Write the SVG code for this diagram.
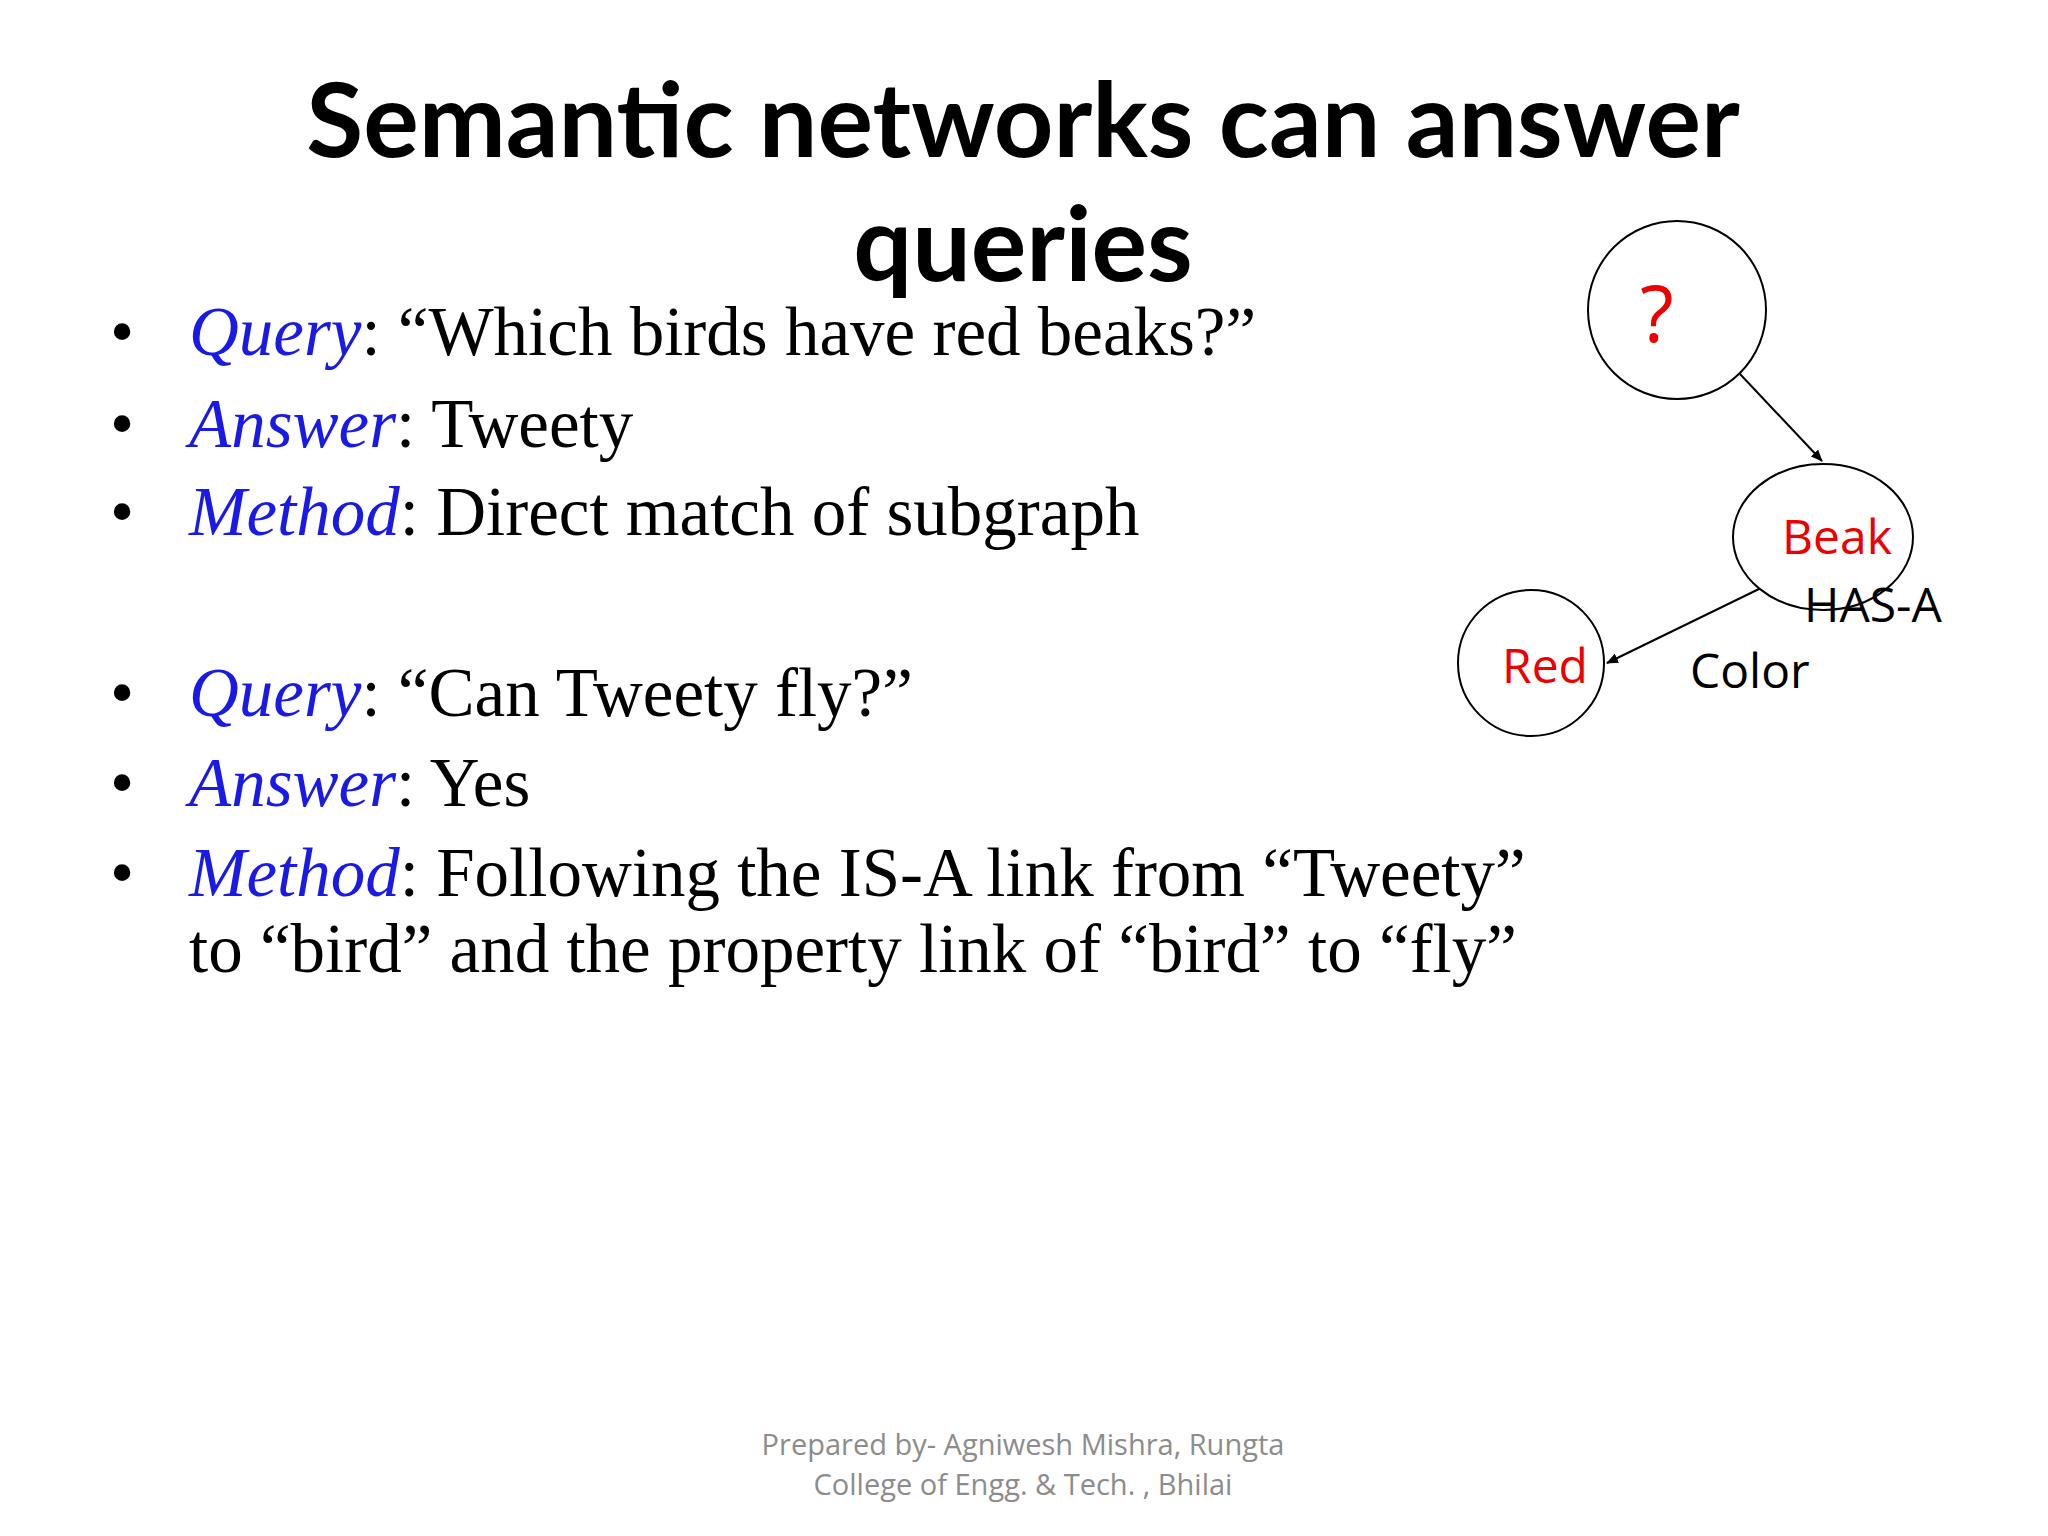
<svg xmlns="http://www.w3.org/2000/svg" width="2048" height="1536" viewBox="0 0 2048 1536">
<style>
.t{font-family:Lato,"Open Sans",sans-serif;font-weight:bold;font-size:104px;text-anchor:middle}
.b{font-family:"Liberation Serif",serif;font-size:69px;fill:#000}
.i{font-style:italic;fill:#1a1ae6}
.s{font-family:"Open Sans",sans-serif;font-size:48px}
.n{fill:#fff;stroke:#000;stroke-width:2}
.f{font-family:"Open Sans",sans-serif;font-size:29px;fill:#8c8c8c;text-anchor:middle}
</style>
<defs><marker id="a" markerWidth="12" markerHeight="10" refX="11" refY="5" orient="auto" markerUnits="userSpaceOnUse"><path d="M0,0L12,5L0,10z" fill="#000"/></marker></defs>
<rect width="2048" height="1536" fill="#fff"/>
<text class="t" x="1023" y="157">Semantic networks can answer</text>
<text class="t" x="1023" y="281">queries</text>
<g class="b">
<text x="110" y="355">•</text><text x="189" y="355"><tspan class="i">Query</tspan>: “Which birds have red beaks?”</text>
<text x="110" y="447">•</text><text x="189" y="447"><tspan class="i">Answer</tspan>: Tweety</text>
<text x="110" y="535">•</text><text x="189" y="535"><tspan class="i">Method</tspan>: Direct match of subgraph</text>
<text x="110" y="716">•</text><text x="189" y="716"><tspan class="i">Query</tspan>: “Can Tweety fly?”</text>
<text x="110" y="806">•</text><text x="189" y="806"><tspan class="i">Answer</tspan>: Yes</text>
<text x="110" y="896">•</text><text x="189" y="896"><tspan class="i">Method</tspan>: Following the IS-A link from “Tweety”</text>
<text x="189" y="972">to “bird” and the property link of “bird” to “fly”</text>
</g>
<g id="q"><circle class="n" cx="1677" cy="310" r="89"/><text x="1640" y="342" font-family="'Open Sans',sans-serif" font-size="78" fill="#e00">?</text></g>
<g id="beak"><ellipse class="n" cx="1823" cy="537" rx="90" ry="73"/><text class="s" x="1837" y="554" text-anchor="middle" fill="#e00">Beak</text></g>
<g id="red"><circle class="n" cx="1531" cy="663" r="73"/><text class="s" x="1545" y="683" text-anchor="middle" fill="#e00">Red</text></g>
<g id="edges" stroke="#000" stroke-width="2" fill="none">
<line x1="1740" y1="374" x2="1822" y2="461" marker-end="url(#a)"/>
<line x1="1759" y1="589" x2="1607" y2="663" marker-end="url(#a)"/>
</g>
<text class="s" x="1804" y="622">HAS-A</text>
<text class="s" x="1690" y="688">Color</text>
<text class="f" x="1023" y="1455">Prepared by- Agniwesh Mishra, Rungta</text>
<text class="f" x="1023" y="1495">College of Engg. &amp; Tech. , Bhilai</text>
</svg>
